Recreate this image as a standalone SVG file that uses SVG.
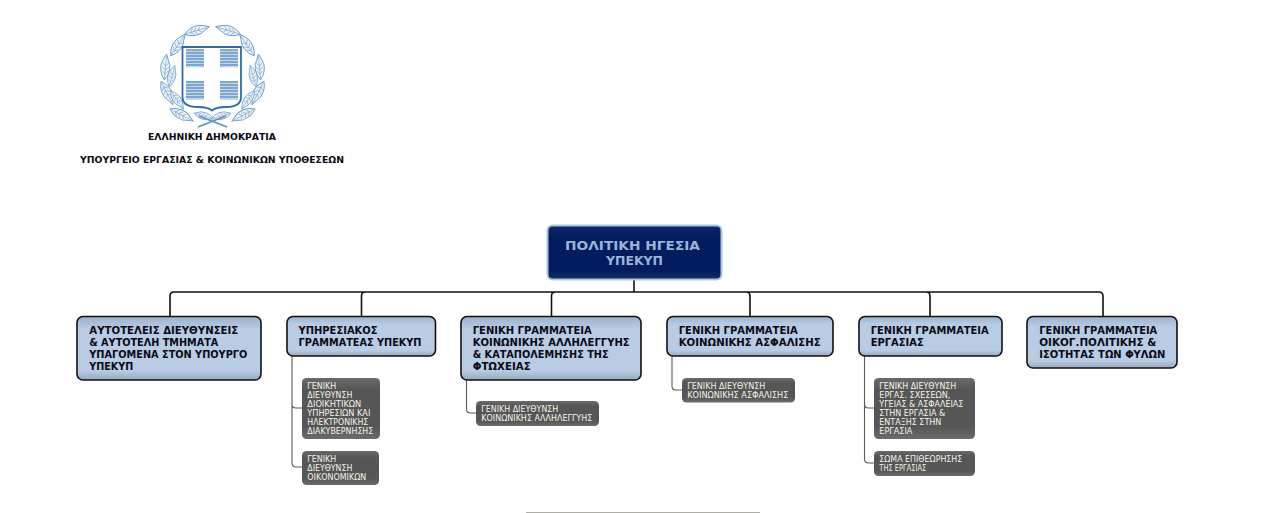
<svg xmlns="http://www.w3.org/2000/svg" xmlns:xlink="http://www.w3.org/1999/xlink" width="1279" height="513" viewBox="0 0 1279 513">
<style>
text{font-family:"DejaVu Sans","Liberation Sans",sans-serif}
.m{fill:url(#gm);stroke:#111;stroke-width:1.6}
.s{fill:url(#gs)}
.mt{font-size:10.6px;font-weight:700;fill:#0a0a14}
.st{font-size:8.6px;fill:#f5f3e8}
.hd{font-size:8.9px;font-weight:700;fill:#0a0a14}
.tt{font-size:13px;font-weight:700;fill:#98b6d6}
.c1{fill:none;stroke:#111;stroke-width:1.6}
.c2{fill:none;stroke:#5a5a5a;stroke-width:1.1}
.lf{fill:#eef4fa;stroke:#6a9aca;stroke-width:.9}
.vn{fill:none;stroke:#7ea8d0;stroke-width:.7}
</style>
<defs>
<linearGradient id="gm" x1="0" y1="0" x2="0" y2="1">
<stop offset="0" stop-color="#9db2cb"/><stop offset=".2" stop-color="#b8cce4"/><stop offset=".85" stop-color="#b8cce4"/><stop offset="1" stop-color="#97a9bf"/>
</linearGradient>
<linearGradient id="gs" x1="0" y1="0" x2="0" y2="1">
<stop offset="0" stop-color="#6a6a6a"/><stop offset=".2" stop-color="#565656"/><stop offset=".8" stop-color="#565656"/><stop offset="1" stop-color="#6c6c6c"/>
</linearGradient>
<linearGradient id="gt" x1="0" y1="0" x2="0" y2="1">
<stop offset="0" stop-color="#14296b"/><stop offset=".2" stop-color="#021c5f"/><stop offset=".85" stop-color="#021c5f"/><stop offset="1" stop-color="#1a3069"/>
</linearGradient>
<g id="leaf">
<path class="lf" d="M-13 0Q-5-6 3-4.500Q8-3 13 0Q7 2 3 4Q-6 5.500-13 0Z"/>
<path class="vn" d="M-12 0H11M-7 0L-4-3M-3 0L0-3.500M1 0L4-3M-7 0L-4 3M-3 0L0 3.500M1 0L4 2.500"/>
</g>
<g id="half">
<use xlink:href="#leaf" transform="translate(197 30.500) rotate(-17)"/>
<use xlink:href="#leaf" transform="translate(178 45) rotate(-56)"/>
<use xlink:href="#leaf" transform="translate(165.500 67) rotate(-85)"/>
<use xlink:href="#leaf" transform="translate(172 76) rotate(-75) scale(.85)"/>
<use xlink:href="#leaf" transform="translate(167 93) rotate(63)"/>
<use xlink:href="#leaf" transform="translate(177 100) rotate(55) scale(.85)"/>
<use xlink:href="#leaf" transform="translate(181.500 115) rotate(28)"/>
<use xlink:href="#leaf" transform="translate(204 116) rotate(15) scale(.8)"/>
</g>
</defs>
<rect width="1279" height="513" fill="#fff"/>

<g id="emblem">
<use xlink:href="#half"/>
<use xlink:href="#half" transform="translate(425 0) scale(-1 1)"/>
<path d="M198 127L226 116M227 127L199 116" fill="none" stroke="#5f92c4" stroke-width="1.800"/>
<path d="M182.500 47H241V97C241 104 236 107 226 107C220 107 215 108 212 110.500C209 108 204 107 198 107C188 107 182.500 104 182.500 97Z" fill="#fff" stroke="#2f6da8" stroke-width="1.800"/>
<path d="M186 49.500H204V67.500H186ZM220 49.500H238V67.500H220ZM186 81H204V100H186ZM220 81H238V100H220Z" fill="#c2d7ea"/>
<path d="M186 50H204M186 53H204M186 56H204M186 59H204M186 62H204M186 65H204M220 50H238M220 53H238M220 56H238M220 59H238M220 62H238M220 65H238M186 82H204M186 85H204M186 88H204M186 91H204M186 94H204M186 97H204M220 82H238M220 85H238M220 88H238M220 91H238M220 94H238M220 97H238" fill="none" stroke="#3a76ae" stroke-width="1.100"/>
</g>

<g id="header">
<text class="hd" x="148" y="139.500" textLength="128" lengthAdjust="spacingAndGlyphs">ΕΛΛΗΝΙΚΗ ΔΗΜΟΚΡΑΤΙΑ</text>
<text class="hd" x="80" y="162.500" textLength="264" lengthAdjust="spacingAndGlyphs">ΥΠΟΥΡΓΕΙΟ ΕΡΓΑΣΙΑΣ &amp; ΚΟΙΝΩΝΙΚΩΝ ΥΠΟΘΕΣΕΩΝ</text>
</g>

<g id="connectors">
<path class="c1" d="M634 280V292M170 316V296Q170 292 174 292H1099Q1103 292 1103 296V316M361.500 316V296Q361.500 292 365.500 292M551.500 316V296Q551.500 292 555.500 292M750 316V296Q750 292 746 292M930 316V296Q930 292 926 292"/>
<path class="c2" d="M292 356V404Q292 408 296 408H302M292 404V463Q292 467 296 467H302M466.500 380V409Q466.500 413 470.500 413H476M672 356V386Q672 390 676 390H682M864.500 356V404Q864.500 408 868.500 408H874M864.500 404V459Q864.500 463 868.500 463H874"/>
</g>

<g id="n-top">
<rect x="547.500" y="225.500" width="174" height="54" rx="5" fill="url(#gt)" stroke="#a7c8d9" stroke-width="2"/>
<text class="tt" x="565" y="249.500" textLength="135" lengthAdjust="spacingAndGlyphs">ΠΟΛΙΤΙΚΗ ΗΓΕΣΙΑ</text>
<text class="tt" x="606" y="265" textLength="57" lengthAdjust="spacingAndGlyphs">ΥΠΕΚΥΠ</text>
</g>

<g id="n1">
<rect class="m" x="77" y="316.500" width="184" height="63.500" rx="6"/>
<text class="mt" x="89.300" y="334" textLength="149" lengthAdjust="spacingAndGlyphs">ΑΥΤΟΤΕΛΕΙΣ ΔΙΕΥΘΥΝΣΕΙΣ</text>
<text class="mt" x="89.300" y="346" textLength="129" lengthAdjust="spacingAndGlyphs">&amp; ΑΥΤΟΤΕΛΗ ΤΜΗΜΑΤΑ</text>
<text class="mt" x="89.300" y="358" textLength="158" lengthAdjust="spacingAndGlyphs">ΥΠΑΓΟΜΕΝΑ ΣΤΟΝ ΥΠΟΥΡΓΟ</text>
<text class="mt" x="89.300" y="370" textLength="44" lengthAdjust="spacingAndGlyphs">ΥΠΕΚΥΠ</text>
</g>
<g id="n2">
<rect class="m" x="287" y="316.500" width="148.500" height="39.500" rx="6"/>
<text class="mt" x="298.500" y="334" textLength="79" lengthAdjust="spacingAndGlyphs">ΥΠΗΡΕΣΙΑΚΟΣ</text>
<text class="mt" x="298.500" y="346" textLength="123" lengthAdjust="spacingAndGlyphs">ΓΡΑΜΜΑΤΕΑΣ ΥΠΕΚΥΠ</text>
</g>
<g id="n3">
<rect class="m" x="461" y="316.500" width="180" height="63.500" rx="6"/>
<text class="mt" x="472.700" y="334" textLength="119" lengthAdjust="spacingAndGlyphs">ΓΕΝΙΚΗ ΓΡΑΜΜΑΤΕΙΑ</text>
<text class="mt" x="472.700" y="346" textLength="157" lengthAdjust="spacingAndGlyphs">ΚΟΙΝΩΝΙΚΗΣ ΑΛΛΗΛΕΓΓΥΗΣ</text>
<text class="mt" x="472.700" y="358" textLength="136" lengthAdjust="spacingAndGlyphs">&amp; ΚΑΤΑΠΟΛΕΜΗΣΗΣ ΤΗΣ</text>
<text class="mt" x="472.700" y="370" textLength="58" lengthAdjust="spacingAndGlyphs">ΦΤΩΧΕΙΑΣ</text>
</g>
<g id="n4">
<rect class="m" x="667" y="316.500" width="166" height="39.500" rx="6"/>
<text class="mt" x="678.700" y="334" textLength="119" lengthAdjust="spacingAndGlyphs">ΓΕΝΙΚΗ ΓΡΑΜΜΑΤΕΙΑ</text>
<text class="mt" x="678.700" y="346" textLength="142" lengthAdjust="spacingAndGlyphs">ΚΟΙΝΩΝΙΚΗΣ ΑΣΦΑΛΙΣΗΣ</text>
</g>
<g id="n5">
<rect class="m" x="859" y="316.500" width="143" height="39.500" rx="6"/>
<text class="mt" x="870.700" y="334" textLength="118" lengthAdjust="spacingAndGlyphs">ΓΕΝΙΚΗ ΓΡΑΜΜΑΤΕΙΑ</text>
<text class="mt" x="870.700" y="346" textLength="53" lengthAdjust="spacingAndGlyphs">ΕΡΓΑΣΙΑΣ</text>
</g>
<g id="n6">
<rect class="m" x="1027" y="316.500" width="150" height="51.500" rx="6"/>
<text class="mt" x="1039.300" y="334" textLength="118" lengthAdjust="spacingAndGlyphs">ΓΕΝΙΚΗ ΓΡΑΜΜΑΤΕΙΑ</text>
<text class="mt" x="1039.300" y="346" textLength="117" lengthAdjust="spacingAndGlyphs">ΟΙΚΟΓ.ΠΟΛΙΤΙΚΗΣ &amp;</text>
<text class="mt" x="1039.300" y="358" textLength="126" lengthAdjust="spacingAndGlyphs">ΙΣΟΤΗΤΑΣ ΤΩΝ ΦΥΛΩΝ</text>
</g>

<g id="s1">
<rect class="s" x="302" y="378" width="78" height="61" rx="4.500"/>
<text class="st" x="307.300" y="389" textLength="29" lengthAdjust="spacingAndGlyphs">ΓΕΝΙΚΗ</text>
<text class="st" x="307.300" y="398" textLength="45" lengthAdjust="spacingAndGlyphs">ΔΙΕΥΘΥΝΣΗ</text>
<text class="st" x="307.300" y="407" textLength="54" lengthAdjust="spacingAndGlyphs">ΔΙΟΙΚΗΤΙΚΩΝ</text>
<text class="st" x="307.300" y="416" textLength="63" lengthAdjust="spacingAndGlyphs">ΥΠΗΡΕΣΙΩΝ ΚΑΙ</text>
<text class="st" x="307.300" y="425" textLength="61" lengthAdjust="spacingAndGlyphs">ΗΛΕΚΤΡΟΝΙΚΗΣ</text>
<text class="st" x="307.300" y="434" textLength="66" lengthAdjust="spacingAndGlyphs">ΔΙΑΚΥΒΕΡΝΗΣΗΣ</text>
</g>
<g id="s2">
<rect class="s" x="302" y="451" width="77" height="34" rx="4.500"/>
<text class="st" x="307.300" y="462" textLength="29" lengthAdjust="spacingAndGlyphs">ΓΕΝΙΚΗ</text>
<text class="st" x="307.300" y="471" textLength="45" lengthAdjust="spacingAndGlyphs">ΔΙΕΥΘΥΝΣΗ</text>
<text class="st" x="307.300" y="480" textLength="59" lengthAdjust="spacingAndGlyphs">ΟΙΚΟΝΟΜΙΚΩΝ</text>
</g>
<g id="s3">
<rect class="s" x="476" y="401" width="123" height="25" rx="4.500"/>
<text class="st" x="481.300" y="412" textLength="77" lengthAdjust="spacingAndGlyphs">ΓΕΝΙΚΗ ΔΙΕΥΘΥΝΣΗ</text>
<text class="st" x="481.300" y="421" textLength="111" lengthAdjust="spacingAndGlyphs">ΚΟΙΝΩΝΙΚΗΣ ΑΛΛΗΛΕΓΓΥΗΣ</text>
</g>
<g id="s4">
<rect class="s" x="682" y="378" width="113" height="24.500" rx="4.500"/>
<text class="st" x="687.300" y="389" textLength="78" lengthAdjust="spacingAndGlyphs">ΓΕΝΙΚΗ ΔΙΕΥΘΥΝΣΗ</text>
<text class="st" x="687.300" y="398" textLength="101" lengthAdjust="spacingAndGlyphs">ΚΟΙΝΩΝΙΚΗΣ ΑΣΦΑΛΙΣΗΣ</text>
</g>
<g id="s5">
<rect class="s" x="874" y="378" width="101" height="61" rx="4.500"/>
<text class="st" x="879.300" y="389" textLength="77" lengthAdjust="spacingAndGlyphs">ΓΕΝΙΚΗ ΔΙΕΥΘΥΝΣΗ</text>
<text class="st" x="879.300" y="398" textLength="71" lengthAdjust="spacingAndGlyphs">ΕΡΓΑΣ. ΣΧΕΣΕΩΝ,</text>
<text class="st" x="879.300" y="407" textLength="84" lengthAdjust="spacingAndGlyphs">ΥΓΕΙΑΣ &amp; ΑΣΦΑΛΕΙΑΣ</text>
<text class="st" x="879.300" y="416" textLength="66" lengthAdjust="spacingAndGlyphs">ΣΤΗΝ ΕΡΓΑΣΙΑ &amp;</text>
<text class="st" x="879.300" y="425" textLength="62" lengthAdjust="spacingAndGlyphs">ΕΝΤΑΞΗΣ ΣΤΗΝ</text>
<text class="st" x="879.300" y="434" textLength="33" lengthAdjust="spacingAndGlyphs">ΕΡΓΑΣΙΑ</text>
</g>
<g id="s6">
<rect class="s" x="874" y="451" width="101" height="25" rx="4.500"/>
<text class="st" x="879.300" y="462" textLength="83" lengthAdjust="spacingAndGlyphs">ΣΩΜΑ ΕΠΙΘΕΩΡΗΣΗΣ</text>
<text class="st" x="879.300" y="471" textLength="47" lengthAdjust="spacingAndGlyphs">ΤΗΣ ΕΡΓΑΣΙΑΣ</text>
</g>
<rect id="footer-rule" x="526" y="512" width="234" height="1" fill="#aeaea4"/>
</svg>
